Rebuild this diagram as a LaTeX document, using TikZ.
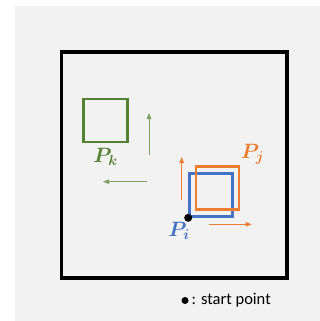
\documentclass[tikz,border=0pt]{standalone}
\usepackage{fontspec}
\usepackage{bm}
\newfontfamily\legendfont{Carlito}
\usetikzlibrary{arrows.meta}
\definecolor{bgg}{HTML}{F2F2F2}
\definecolor{oblue}{HTML}{4472C4}
\definecolor{oorange}{HTML}{ED7D31}
\definecolor{ogreen}{HTML}{548235}
\tikzset{
  sq/.style={draw=#1, line width=2.6pt, minimum size=43pt, inner sep=0pt},
  mv/.style={draw=#1, line width=0.8pt, -{Triangle[length=6pt,width=4.5pt]}},
  lbl/.style={text=#1, inner sep=0pt, font=\fontsize{22}{22}\selectfont},
}
\begin{document}
\begin{tikzpicture}[x=1pt,y=-1pt]
\useasboundingbox (0,0) rectangle (320,321);
\fill[bgg] (15,6) rectangle (320,321);
\node[draw=black, line width=3.5pt, minimum width=225.7pt, minimum height=225.7pt, inner sep=0pt] (frame) at (174.2,164.9) {};
% green
\node[sq=ogreen, minimum width=44pt, minimum height=43pt] (pk) at (105.5,120.5) {};
\node[lbl=ogreen] (pkl) at (105.5,157) {$\bm{P}_{\bm{k}}$};
\coordinate (gu1) at (149,155); \coordinate (gu2) at (149,113);
\coordinate (gl1) at (147,181.7); \coordinate (gl2) at (103,181.7);
\draw[mv=ogreen!75] (gu1) -- (gu2);
\draw[mv=ogreen!75] (gl1) -- (gl2);
% blue and orange
\node[sq=oblue] (pi) at (211,195) {};
\node[sq=oorange] (pj) at (217.5,187.7) {};
\fill[black] (pi.south west) circle (4pt);
\node[lbl=oblue] (pil) at (179,231) {$\bm{P}_{\bm{i}}$};
\node[lbl=oorange] (pjl) at (252.5,154) {$\bm{P}_{\bm{j}}$};
\coordinate (ou1) at (181.7,200); \coordinate (ou2) at (181.7,157);
\coordinate (or1) at (209,224.3); \coordinate (or2) at (251.7,224.3);
\draw[mv=oorange] (ou1) -- (ou2);
\draw[mv=oorange] (or1) -- (or2);
% legend
\fill[black] (185,300.5) circle (3.5pt);
\node[anchor=west, inner sep=0pt, font=\legendfont\fontsize{16.5}{17}\selectfont] (leg) at (191.5,300) {: start point};
\end{tikzpicture}
\end{document}
